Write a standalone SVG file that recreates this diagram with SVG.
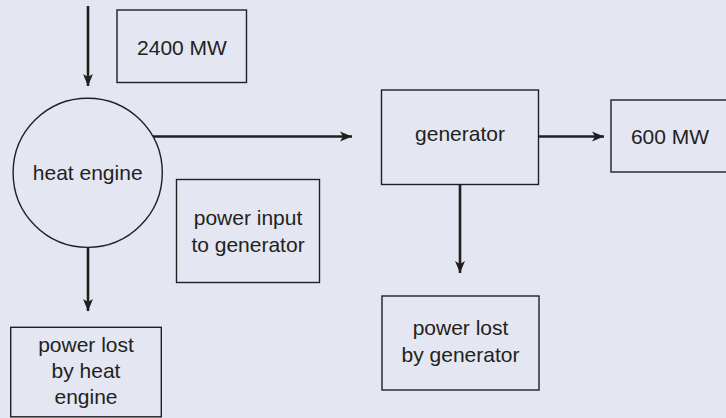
<svg xmlns="http://www.w3.org/2000/svg" width="726" height="418" viewBox="0 0 726 418">
<defs>
<style>
.bg{fill:#e4e6f2}
.box{fill:none;stroke:#231f20;stroke-width:1.4}
.conn{fill:none;stroke:#231f20;stroke-width:2.6}
.t{font-family:"Liberation Sans",Arial,sans-serif;font-size:21px;fill:#231f20;text-anchor:middle}
</style>
<marker id="ah" markerUnits="userSpaceOnUse" markerWidth="14" markerHeight="12" refX="12" refY="5" orient="auto" viewBox="0 0 14 10">
<path d="M0,0 L12,5 L0,10 L3,5 Z" fill="#231f20"/>
</marker>
</defs>
<rect class="bg" x="0" y="0" width="726" height="418"/>
<g id="connectors">
<line class="conn" x1="88" y1="6" x2="88" y2="86" marker-end="url(#ah)"/>
<line class="conn" x1="153" y1="136.5" x2="352" y2="136.5" marker-end="url(#ah)"/>
<line class="conn" x1="538" y1="136.5" x2="604" y2="136.5" marker-end="url(#ah)"/>
<line class="conn" x1="460" y1="184" x2="460" y2="273" marker-end="url(#ah)"/>
<line class="conn" x1="88" y1="247" x2="88" y2="311" marker-end="url(#ah)"/>
</g>
<g id="input-label">
<rect class="box" x="117" y="10" width="129.5" height="72.5"/>
<text class="t" x="182" y="55">2400 MW</text>
</g>
<g id="heat-engine">
<circle class="box" cx="87.7" cy="172.8" r="74.6"/>
<text class="t" x="87.7" y="180">heat engine</text>
</g>
<g id="power-input-label">
<rect class="box" x="176.5" y="179.5" width="143" height="103"/>
<text class="t" x="248" y="225">power input</text>
<text class="t" x="248" y="251.5">to generator</text>
</g>
<g id="generator">
<rect class="box" x="381.5" y="90" width="157" height="94.5"/>
<text class="t" x="460" y="141">generator</text>
</g>
<g id="output-label">
<rect class="box" x="611" y="100" width="118" height="72"/>
<text class="t" x="670" y="144">600 MW</text>
</g>
<g id="lost-generator">
<rect class="box" x="382" y="296" width="157" height="94"/>
<text class="t" x="460.5" y="335">power lost</text>
<text class="t" x="460.5" y="361.5">by generator</text>
</g>
<g id="lost-heat-engine">
<rect class="box" x="10.7" y="327.3" width="150.6" height="89.5"/>
<text class="t" x="86" y="352">power lost</text>
<text class="t" x="86" y="378">by heat</text>
<text class="t" x="86" y="404">engine</text>
</g>
</svg>
